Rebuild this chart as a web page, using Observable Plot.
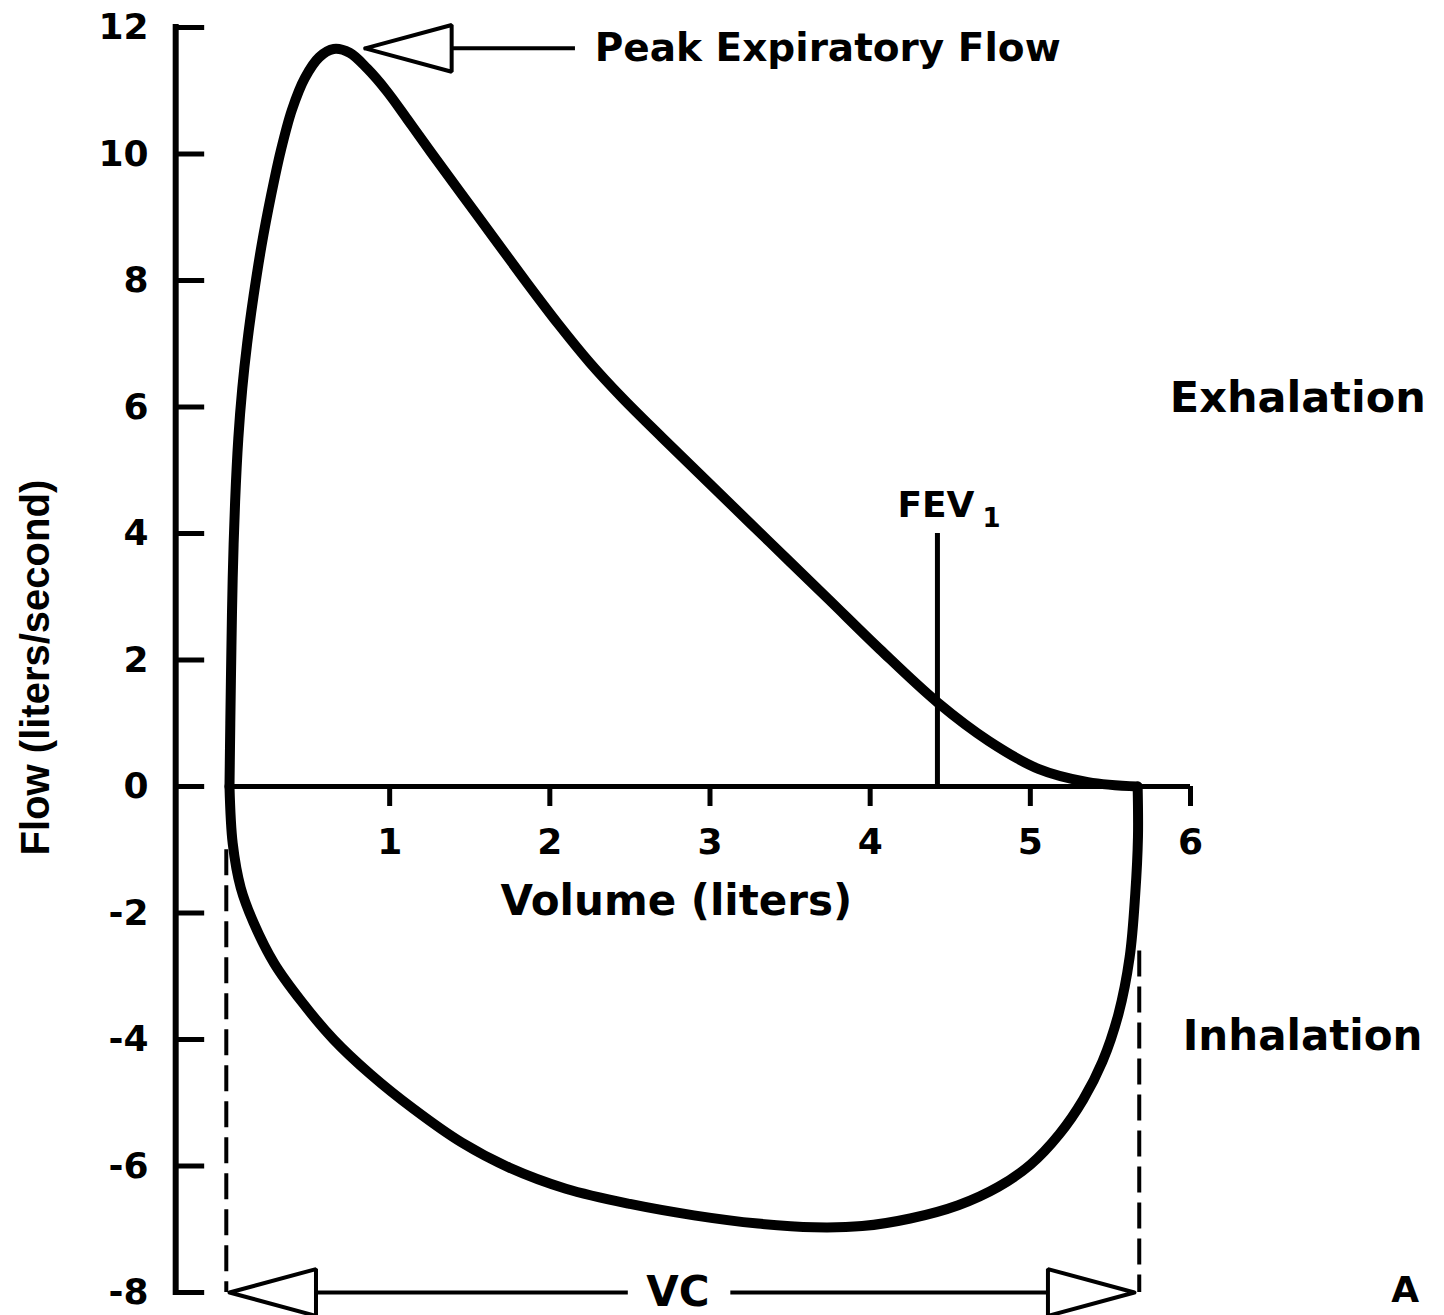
<!DOCTYPE html>
<html><head><meta charset="utf-8">
<script src="https://cdn.jsdelivr.net/npm/d3@7"></script>
<script src="https://cdn.jsdelivr.net/npm/@observablehq/plot@0.6"></script>
<style>
html,body{margin:0;padding:0;background:#fff;}
#chart svg{display:block;}
</style></head>
<body><div id="chart"></div>
<script>
// Flow-volume loop (expiration above the axis, inspiration below)
const exhaleVolume = [0, 0.005, 0.012, 0.02, 0.035, 0.055, 0.08, 0.11, 0.15, 0.2, 0.26, 0.32, 0.39, 0.47, 0.56, 0.65, 0.75, 0.86, 0.98, 1.11, 1.26, 1.55, 1.84, 2.05, 2.25, 2.45, 2.7, 3.0, 3.37, 3.74, 4.06, 4.42, 4.74, 5.05, 5.36, 5.67];
const exhaleFlow   = [0, 1.0, 2.2, 3.3, 4.5, 5.5, 6.3, 7.0, 7.75, 8.55, 9.35, 10.05, 10.7, 11.2, 11.53, 11.66, 11.6, 11.35, 11.0, 10.55, 10.02, 9.02, 8.02, 7.32, 6.7, 6.15, 5.52, 4.78, 3.87, 2.96, 2.17, 1.33, 0.72, 0.28, 0.07, 0];
const inhaleVolume = [5.67, 5.672, 5.655, 5.62, 5.55, 5.45, 5.33, 5.18, 5.0, 4.8, 4.55, 4.25, 3.95, 3.65, 3.3, 2.9, 2.5, 2.1, 1.75, 1.45, 1.15, 0.88, 0.65, 0.45, 0.28, 0.15, 0.07, 0.02, 0];
const inhaleFlow   = [0, -0.8, -1.7, -2.7, -3.6, -4.35, -4.95, -5.5, -5.98, -6.33, -6.62, -6.83, -6.95, -6.97, -6.91, -6.78, -6.6, -6.36, -6.03, -5.63, -5.1, -4.55, -4.0, -3.4, -2.8, -2.15, -1.6, -0.9, 0];

const yTicks = [-8, -6, -4, -2, 0, 2, 4, 6, 8, 10, 12];
const xTicks = [1, 2, 3, 4, 5, 6];

const fev1Volume = 4.42, fev1Top = 4.0;
const peakVolume = 0.65, peakFlow = 11.67;
const vcVolume = 5.67;

const exhale = exhaleVolume.map((v, i) => ({v, f: exhaleFlow[i]}));
const inhale = inhaleVolume.map((v, i) => ({v, f: inhaleFlow[i]}));

// annotation geometry (data units)
const yAxisAt = -0.336;
const peakTip = 0.847, headLen = 0.54, headHalf = 0.37;
const tri = (tx, ty, dir) => [[tx, ty], [tx + dir * headLen, ty + headHalf], [tx + dir * headLen, ty - headHalf], [tx, ty]];

const font = "DejaVu Sans";
const chart = Plot.plot({
  width: 1444, height: 1315,
  marginLeft: 175, marginTop: 27, marginBottom: 23, marginRight: 254,
  x: {domain: [0, 6], range: [229, 1190], axis: null},
  y: {domain: [-8, 12], range: [1292, 27], axis: null},
  style: {background: "white", color: "black", fontFamily: font},
  marks: [
    // y axis
    Plot.ruleX([yAxisAt], {y1: -8, y2: 12, strokeWidth: 6, strokeLinecap: "square"}),
    Plot.ruleY(yTicks, {y: d => d, x1: yAxisAt, x2: yAxisAt, insetRight: -29, strokeWidth: 5}),
    Plot.axisY({ticks: yTicks, anchor: "left", tickSize: 0, tickPadding: 27, label: null,
      tickFormat: d => String(d), fontSize: 36, fontWeight: "bold", fontFamily: font}),
    // x axis
    Plot.ruleY([0], {x1: 0, x2: 6, strokeWidth: 5}),
    Plot.ruleX(xTicks, {x: d => d, y1: 0, y2: 0, insetBottom: -20, strokeWidth: 5}),
    Plot.text(xTicks, {x: d => d, y: 0, text: d => String(d), dy: 56, fontSize: 36, fontWeight: "bold", fontFamily: font}),
    Plot.text(["Volume (liters)"], {x: 2.79, y: -1.82, fontSize: 42, fontWeight: "bold", fontFamily: font}),
    Plot.text(["Flow (liters/second)"], {x: -1.21, y: 1.88, rotate: -90, fontSize: 40, fontWeight: "bold", fontFamily: "Liberation Sans"}),
    // loop
    Plot.line(exhale, {x: "v", y: "f", curve: "catmull-rom", strokeWidth: 10, strokeLinejoin: "round", strokeLinecap: "round"}),
    Plot.line(inhale, {x: "v", y: "f", curve: "catmull-rom", strokeWidth: 10, strokeLinejoin: "round", strokeLinecap: "round"}),
    // FEV1
    Plot.ruleX([fev1Volume], {y1: 0, y2: fev1Top, strokeWidth: 5}),
    Plot.text(["FEV"], {x: fev1Volume, y: fev1Top, dx: 37, dy: -28, textAnchor: "end", fontSize: 36, fontWeight: "bold", fontFamily: font}),
    Plot.text(["1"], {x: fev1Volume, y: fev1Top, dx: 45, dy: -15, textAnchor: "start", fontSize: 26, fontWeight: "bold", fontFamily: font}),
    // Peak expiratory flow
    Plot.line(tri(peakTip, peakFlow, 1), {strokeWidth: 4, strokeLinejoin: "miter"}),
    Plot.ruleY([peakFlow], {x1: peakTip + headLen, x2: 2.16, strokeWidth: 4}),
    Plot.text(["Peak Expiratory Flow"], {x: 2.28, y: peakFlow, textAnchor: "start", fontSize: 39, fontWeight: "bold", fontFamily: font}),
    // VC
    Plot.ruleX([-0.02], {y1: -1.0, y2: -8, strokeWidth: 4, strokeDasharray: "26,10"}),
    Plot.ruleX([vcVolume + 0.01], {y1: -2.6, y2: -8, strokeWidth: 4, strokeDasharray: "26,10"}),
    Plot.line(tri(0, -8, 1), {strokeWidth: 4, strokeLinejoin: "miter"}),
    Plot.line(tri(vcVolume - 0.02, -8, -1), {strokeWidth: 4, strokeLinejoin: "miter"}),
    Plot.ruleY([-8], {x1: headLen, x2: 2.49, strokeWidth: 4}),
    Plot.ruleY([-8], {x1: 3.13, x2: vcVolume - 0.02 - headLen, strokeWidth: 4}),
    Plot.text(["VC"], {x: 2.8, y: -8, fontSize: 42, fontWeight: "bold", fontFamily: font}),
    // side labels
    Plot.text(["Exhalation"], {x: 6.67, y: 6.14, fontSize: 43, fontWeight: "bold", fontFamily: font}),
    Plot.text(["Inhalation"], {x: 6.70, y: -3.96, fontSize: 42, fontWeight: "bold", fontFamily: font}),
    Plot.text(["A"], {x: 7.34, y: -7.97, fontSize: 36, fontWeight: "bold", fontFamily: font})
  ]
});
document.getElementById("chart").append(chart);
</script>
</body></html>
